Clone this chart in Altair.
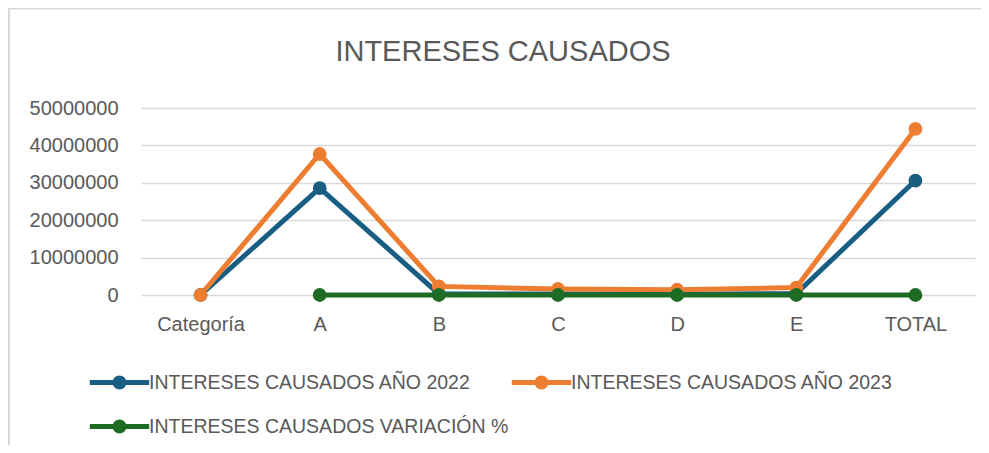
import altair as alt
import pandas as pd

categories = ["Categoría", "A", "B", "C", "D", "E", "TOTAL"]
series_names = [
    "INTERESES CAUSADOS AÑO 2022",
    "INTERESES CAUSADOS AÑO 2023",
    "INTERESES CAUSADOS VARIACIÓN %",
]
values_2022 = [0, 28600000, 300000, 250000, 200000, 400000, 30600000]
values_2023 = [0, 37700000, 2300000, 1600000, 1400000, 2000000, 44400000]
values_var = [None, 0.32, 6.7, 5.4, 6.0, 4.0, 0.45]
colors = ["#175E82", "#ED7D31", "#1E6B24"]

rows = []
for name, vals in zip(series_names, [values_2022, values_2023, values_var]):
    for c, v in zip(categories, vals):
        if v is not None:
            rows.append({"cat": c, "serie": name, "valor": v})
df = pd.DataFrame(rows)

FONT = "Liberation Sans, sans-serif"
TEXT = "#595959"
BORDER = "#D9D9D9"

# legend symbol: a line with a dot (unit = 11 px, symbol box 22 px)
legend_path = ("M-2.7,0L2.7,0 "
               "M0.409,0A0.409,0.409,0,1,1,-0.409,0A0.409,0.409,0,1,1,0.409,0 "
               "M0.136,0A0.136,0.136,0,1,1,-0.136,0A0.136,0.136,0,1,1,0.136,0")

lines = alt.Chart(df).mark_line(
    strokeWidth=5,
    point=alt.OverlayMarkDef(filled=True, size=190, opacity=1, strokeWidth=0),
).encode(
    x=alt.X(
        "cat:N",
        sort=categories,
        scale=alt.Scale(domain=categories, padding=0.5),
        axis=alt.Axis(title=None, labelAngle=0, domain=False, ticks=False, labelPadding=19,
                      labelFontSize=20, labelColor=TEXT, labelFont=FONT, grid=False),
    ),
    y=alt.Y(
        "valor:Q",
        scale=alt.Scale(domain=[0, 50000000], nice=False),
        axis=alt.Axis(title=None, values=[0, 10000000, 20000000, 30000000, 40000000, 50000000],
                      format="d", domain=False, ticks=False, labelPadding=23,
                      labelFontSize=20, labelColor=TEXT, labelFont=FONT,
                      gridColor="#D9D9D9", gridWidth=1.5),
    ),
    color=alt.Color(
        "serie:N",
        scale=alt.Scale(domain=series_names, range=colors),
        sort=series_names,
        legend=alt.Legend(
            title=None, orient="none", legendX=-35, legendY=261, direction="horizontal",
            columns=2, columnPadding=-8, rowPadding=15, gridAlign="none",
            symbolType=legend_path, symbolSize=484, symbolStrokeWidth=5,
            labelFontSize=19.5, labelColor=TEXT, labelFont=FONT,
            labelOffset=16, labelLimit=600,
        ),
    ),
)

frame = pd.DataFrame({"k": [0]})
top_border = alt.Chart(frame).mark_rule(color=BORDER, strokeWidth=2).encode(
    x=alt.value(-133), x2=alt.value(860), y=alt.value(-99.5)
)
left_border = alt.Chart(frame).mark_rule(color=BORDER, strokeWidth=2).encode(
    x=alt.value(-132), y=alt.value(-100), y2=alt.value(400)
)

chart = alt.layer(lines, top_border, left_border).properties(
    width=834,
    height=187,
    autosize=alt.AutoSizeParams(type="none"),
    padding={"left": 133, "top": 100, "right": 6, "bottom": 150},
    background="white",
    title=alt.Title("INTERESES CAUSADOS", fontSize=29, font=FONT, fontWeight="normal",
                    color=TEXT, anchor="middle", frame="group", dx=-55, offset=-60),
).configure_view(strokeWidth=0)

chart.save("out.html", embed_options={"renderer": "svg", "actions": False})
